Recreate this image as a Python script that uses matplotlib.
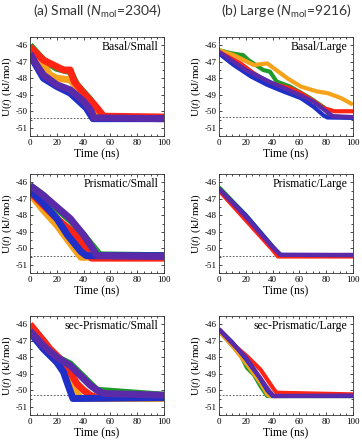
# U(t) relaxation curves, small vs large systems
import matplotlib
matplotlib.use('Agg')
import matplotlib.pyplot as plt
from matplotlib.ticker import MultipleLocator

plt.rcParams['font.family'] = ['Liberation Serif', 'DejaVu Serif']
plt.rcParams['axes.unicode_minus'] = False
plt.rcParams['mathtext.fontset'] = 'custom'
plt.rcParams['mathtext.rm'] = 'Lato'
plt.rcParams['mathtext.it'] = 'Lato:italic'

colors = {'green': '#1f9a2a', 'orange': '#f7a21b', 'red': '#ff2414',
          'blue': '#1f2fc8', 'purple': '#5a2aa8'}
draw_order = ['green', 'orange', 'red', 'blue', 'purple']

# ---- Basal / Small ----
basal_small = {
    'green':  ([0, 10, 20, 30, 35, 45, 52, 56, 100], [-46.0, -46.9, -47.4, -47.6, -48.4, -49.3, -50.2, -50.4, -50.4]),
    'orange': ([0, 10, 15, 20, 30, 40, 50, 55, 100], [-46.3, -47.2, -47.8, -48.0, -48.1, -49.0, -50.1, -50.4, -50.4]),
    'red':    ([0, 10, 20, 25, 30, 33, 40, 48, 55, 100], [-46.1, -46.9, -47.3, -47.5, -47.5, -48.2, -48.9, -49.6, -50.3, -50.35]),
    'blue':   ([0, 10, 20, 30, 42, 47, 100], [-46.6, -48.0, -48.5, -48.9, -49.8, -50.45, -50.45]),
    'purple': ([0, 5, 10, 20, 30, 40, 45, 48, 100], [-46.5, -47.2, -47.8, -48.4, -48.7, -49.4, -49.9, -50.4, -50.45]),
}
# ---- Basal / Large ----
basal_large = {
    'green':  ([0, 10, 18, 22, 33, 38, 43, 53, 68, 78, 83, 100], [-46.3, -46.5, -46.6, -46.9, -47.5, -47.6, -48.2, -48.5, -49.2, -49.75, -50.3, -50.4]),
    'orange': ([0, 11, 26, 36, 41, 51, 61, 73, 81, 91, 100], [-46.3, -46.6, -47.2, -47.1, -47.4, -48.0, -48.5, -48.8, -48.9, -49.2, -49.6]),
    'red':    ([0, 16, 26, 36, 43, 53, 61, 71, 78, 86, 100], [-46.4, -47.1, -47.7, -48.2, -48.4, -48.6, -48.9, -49.4, -49.8, -50.0, -50.0]),
    'blue':   ([0, 11, 24, 36, 48, 61, 71, 78, 81, 100], [-46.5, -47.2, -47.9, -48.4, -48.8, -49.2, -49.75, -50.25, -50.38, -50.4]),
    'purple': ([0, 20, 40, 60, 70, 80, 85, 100], [-46.4, -47.5, -48.3, -49.0, -49.4, -50.0, -50.3, -50.35]),
}
# ---- Prismatic / Small ----
prism_small = {
    'green':  ([0, 10, 20, 30, 40, 48, 52, 100], [-46.2, -46.8, -47.6, -48.3, -49.2, -50.0, -50.4, -50.45]),
    'orange': ([0, 10, 20, 30, 38, 100], [-46.7, -47.7, -48.6, -49.7, -50.55, -50.5]),
    'red':    ([0, 10, 20, 30, 38, 43, 46, 100], [-46.6, -47.4, -48.2, -48.9, -49.6, -50.3, -50.6, -50.6]),
    'blue':   ([0, 10, 20, 28, 38, 42, 100], [-46.5, -47.3, -48.2, -49.2, -50.2, -50.45, -50.45]),
    'purple': ([0, 10, 20, 30, 40, 45, 50, 100], [-46.2, -46.8, -47.5, -48.2, -49.2, -49.8, -50.45, -50.5]),
}
# ---- Prismatic / Large ----
prism_large = {
    'green':  ([0, 20, 40, 45, 100], [-46.3, -48.0, -49.9, -50.42, -50.42]),
    'orange': ([0, 20, 40, 44, 100], [-46.45, -48.2, -50.0, -50.45, -50.45]),
    'red':    ([0, 20, 40, 44, 100], [-46.5, -48.3, -50.1, -50.5, -50.5]),
    'blue':   ([0, 20, 40, 46, 100], [-46.4, -48.0, -49.9, -50.4, -50.42]),
    'purple': ([0, 20, 40, 46, 100], [-46.4, -48.1, -49.95, -50.4, -50.4]),
}
# ---- sec-Prismatic / Small ----
sec_small = {
    'green':  ([0, 10, 15, 20, 30, 40, 50, 100], [-46.1, -47.0, -47.6, -48.0, -48.4, -49.2, -50.0, -50.3]),
    'orange': ([0, 10, 20, 25, 30, 35, 38, 100], [-46.4, -47.4, -48.3, -48.8, -49.5, -50.2, -50.5, -50.5]),
    'red':    ([0, 10, 15, 20, 25, 30, 35, 40, 45, 50, 100], [-46.0, -47.0, -47.5, -47.9, -48.3, -48.9, -49.6, -50.0, -50.3, -50.45, -50.4]),
    'blue':   ([0, 10, 20, 25, 28, 32, 100], [-46.5, -47.5, -48.3, -48.9, -49.6, -50.5, -50.45]),
    'purple': ([0, 10, 20, 30, 40, 45, 50, 55, 100], [-46.4, -47.3, -48.0, -48.5, -49.3, -49.7, -50.0, -50.2, -50.3]),
}
# ---- sec-Prismatic / Large ----
sec_large = {
    'green':  ([0, 16, 21, 26, 31, 36, 100], [-46.4, -47.85, -48.65, -49.05, -49.75, -50.35, -50.35]),
    'orange': ([0, 10, 21, 31, 36, 38, 100], [-46.4, -47.3, -48.45, -49.55, -50.25, -50.35, -50.35]),
    'red':    ([0, 11, 21, 31, 36, 41, 43, 100], [-46.3, -47.25, -47.95, -48.75, -49.35, -49.95, -50.15, -50.25]),
    'blue':   ([0, 10, 20, 30, 36, 40, 100], [-46.3, -47.1, -48.1, -49.2, -50.0, -50.35, -50.35]),
    'purple': ([0, 20, 38, 41, 100], [-46.3, -48.0, -50.1, -50.35, -50.32]),
}

panels = [
    (basal_small, 'Basal/Small', -50.4, 5.0),
    (basal_large, 'Basal/Large', -50.35, 3.0),
    (prism_small, 'Prismatic/Small', -50.45, 5.0),
    (prism_large, 'Prismatic/Large', -50.45, 3.0),
    (sec_small, 'sec-Prismatic/Small', -50.3, 5.0),
    (sec_large, 'sec-Prismatic/Large', -50.3, 3.0),
]
titles = [r'(a) Small ($N_{\mathrm{mol}}$=2304)', r'(b) Large ($N_{\mathrm{mol}}$=9216)']

W, H = 362, 440
fig = plt.figure(figsize=(W / 100, H / 100), dpi=100)

col_left = [30, 219]
row_top = [37, 174, 316]
ax_w, ax_h = 134, 99

for i, (data, label, ref, lw) in enumerate(panels):
    r, c = divmod(i, 2)
    ax = fig.add_axes([col_left[c] / W, 1 - (row_top[r] + ax_h) / H, ax_w / W, ax_h / H])
    for name in draw_order:
        t, u = data[name]
        ax.plot(t, u, color=colors[name], lw=lw, solid_capstyle='butt', zorder=2)
    ax.axhline(ref, color='#444444', lw=0.6, ls=(0, (2, 2)), zorder=1)
    ax.set_xlim(0, 100)
    ax.set_ylim(-51.5, -45.5)
    ax.set_xticks([0, 20, 40, 60, 80, 100])
    ax.set_yticks([-46, -47, -48, -49, -50, -51])
    ax.xaxis.set_minor_locator(MultipleLocator(5))
    ax.yaxis.set_minor_locator(MultipleLocator(0.5))
    ax.tick_params(which='both', direction='in', top=True, right=True, labelsize=6.5, pad=2)
    ax.tick_params(which='major', length=2.5, width=0.5)
    ax.tick_params(which='minor', length=1.3, width=0.5)
    for s in ax.spines.values():
        s.set_linewidth(0.6)
        s.set_color('#333333')
    ax.set_xlabel('Time (ns)', fontsize=8.5, labelpad=1)
    ax.set_ylabel(r'U($t$) (kJ/mol)', fontsize=8, labelpad=1, math_fontfamily='stix')
    ax.text(0.96, 0.9, label, transform=ax.transAxes, ha='right', va='center', fontsize=8.5)
    if r == 0:
        ax.set_title(titles[c], fontsize=10, family='Lato', pad=15, color='#333333')

fig.savefig('out.png', dpi=100)
